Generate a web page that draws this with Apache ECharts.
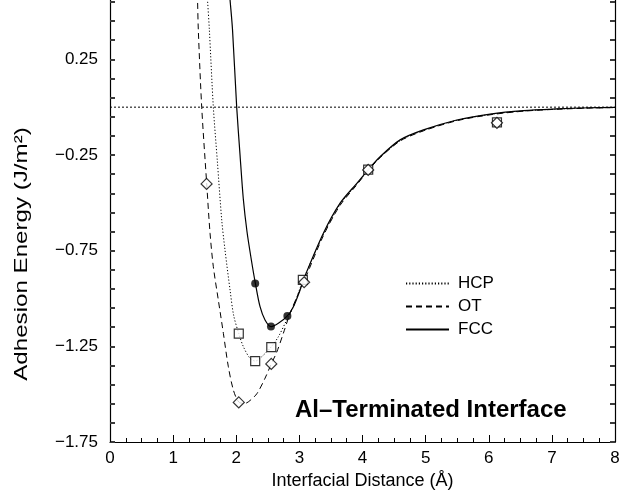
<!DOCTYPE html>
<html><head><meta charset="utf-8">
<script src="https://cdn.jsdelivr.net/npm/echarts@6/dist/echarts.min.js"></script>
<style>html,body{margin:0;padding:0;background:#fff}#c{width:629px;height:490px}</style>
</head><body><div id="c"></div>
<script>
// ---- tick values ----
const xTickValues = [0, 1, 2, 3, 4, 5, 6, 7, 8];
const yTickValues = [-1.75, -1.25, -0.75, -0.25, 0.25];
const yMinorTickValues = [-1.65, -1.55, -1.45, -1.35, -1.15, -1.05, -0.95, -0.85, -0.65, -0.55, -0.45, -0.35, -0.15, -0.05, 0.05, 0.15, 0.35, 0.45, 0.55];

// ---- fitted curves ----
const hcpCurveX = [1.519, 1.545, 1.574, 1.637, 1.70, 1.770, 1.822, 1.902, 1.96, 2.040, 2.113, 2.219, 2.303, 2.404, 2.556, 2.667, 2.800, 2.905, 3.054, 3.38, 3.645, 3.91, 4.093, 4.279, 4.596, 4.965, 5.494, 6.022, 6.55, 7.079, 7.607, 8.0];
const hcpCurveY = [0.70, 0.56, 0.404, 0.0, -0.28, -0.590, -0.747, -0.956, -1.09, -1.183, -1.252, -1.313, -1.327, -1.304, -1.252, -1.200, -1.112, -1.043, -0.909, -0.666, -0.508, -0.402, -0.328, -0.262, -0.175, -0.122, -0.069, -0.038, -0.020, -0.010, -0.004, -0.002];

const otCurveX = [1.376, 1.387, 1.399, 1.453, 1.532, 1.585, 1.637, 1.716, 1.796, 1.875, 1.954, 2.040, 2.14, 2.219, 2.330, 2.457, 2.556, 2.642, 2.746, 2.853, 2.964, 3.074, 3.38, 3.645, 3.91, 4.093, 4.279, 4.596, 4.965, 5.494, 6.022, 6.55, 7.079, 7.607, 8.0];
const otCurveY = [0.70, 0.56, 0.404, 0.0, -0.401, -0.659, -0.834, -1.008, -1.182, -1.357, -1.478, -1.541, -1.548, -1.533, -1.496, -1.416, -1.341, -1.280, -1.182, -1.077, -0.99, -0.91, -0.672, -0.513, -0.406, -0.330, -0.264, -0.177, -0.124, -0.071, -0.040, -0.021, -0.011, -0.005, -0.002];

const fccCurveX = [1.867, 1.902, 1.941, 2.007, 2.06, 2.112, 2.17, 2.24, 2.303, 2.377, 2.456, 2.552, 2.667, 2.810, 2.905, 3.011, 3.063, 3.38, 3.645, 3.91, 4.093, 4.279, 4.596, 4.965, 5.494, 6.022, 6.55, 7.079, 7.607, 8.0];
const fccCurveY = [0.70, 0.56, 0.404, 0.0, -0.25, -0.48, -0.65, -0.80, -0.921, -1.043, -1.112, -1.147, -1.130, -1.091, -1.043, -0.956, -0.903, -0.659, -0.502, -0.398, -0.326, -0.259, -0.171, -0.119, -0.067, -0.036, -0.018, -0.009, -0.003, -0.001];

// ---- computed points (markers) ----
const hcpPointsX = [2.04, 2.30, 2.555, 3.055, 4.09, 6.13];
const hcpPointsY = [-1.184, -1.327, -1.254, -0.903, -0.326, -0.080];
const otPointsX = [1.53, 2.04, 2.555, 3.075, 4.09, 6.13];
const otPointsY = [-0.401, -1.543, -1.342, -0.915, -0.328, -0.082];
const fccPointsX = [2.30, 2.55, 2.81];
const fccPointsY = [-0.921, -1.147, -1.091];

const zeroLineX = [0, 8];
const zeroLineY = [0, 0];

const zip = (a, b) => a.map((v, i) => [v, b[i]]);
const FONT = '"Liberation Sans", Arial, Helvetica, sans-serif';
const Y_MIN = -1.75, Y_MAX = 0.56;
const axisCol = '#000';
const tickCol = '#3a3a3a';
const yAllTicks = yTickValues.concat(yMinorTickValues).sort((a, b) => a - b);

const chart = echarts.init(document.getElementById('c'));
const fmtY = v => (v < 0 ? '\u2212' : '') + Math.abs(v).toFixed(2);

chart.setOption({
  animation: false,
  title: {
    text: 'Al\u2013Terminated Interface',
    left: 295, top: 398, padding: 0,
    textStyle: {fontFamily: FONT, fontSize: 24, fontWeight: 'bold', color: '#000'}
  },
  legend: {
    orient: 'vertical', left: 405, top: 275, padding: 0,
    itemWidth: 43, itemHeight: 14, itemGap: 6,
    data: ['HCP', 'OT', 'FCC'],
    itemStyle: {opacity: 0},
    textStyle: {fontFamily: FONT, fontSize: 17, color: '#000', lineHeight: 17, padding: [0, 0, 0, 4]}
  },
  graphic: [{
    type: 'text', x: 22, y: 254, rotation: Math.PI / 2, scaleX: 1.27,
    style: {text: 'Adhesion Energy (J/m\u00B2)', font: '19px ' + FONT, fill: '#000', align: 'center', verticalAlign: 'middle'}
  }],
  grid: {left: 110, right: 14, top: 0, bottom: 48, outerBoundsMode: 'none'},
  xAxis: [{
    type: 'value', min: 0, max: 8, interval: 1,
    axisLine: {show: true, onZero: false, lineStyle: {color: axisCol, width: 1.2}},
    axisTick: {show: true, inside: true, length: 7, lineStyle: {color: axisCol, width: 1}},
    minorTick: {show: true, splitNumber: 4, length: 4, lineStyle: {color: axisCol, width: 1}},
    splitLine: {show: false},
    axisLabel: {fontFamily: FONT, fontSize: 17, color: '#000', margin: 8},
    name: 'Interfacial Distance (\u00C5)', nameLocation: 'middle', nameGap: 28,
    nameTextStyle: {fontFamily: FONT, fontSize: 18, color: '#000'}
  }],
  yAxis: [{
    type: 'value', position: 'left', min: Y_MIN, max: Y_MAX,
    axisLine: {show: true, onZero: false, lineStyle: {color: axisCol, width: 1.2}},
    axisTick: {show: false},
    axisLabel: {show: true, customValues: yTickValues, fontFamily: FONT, fontSize: 17, color: '#000', margin: 12, formatter: fmtY},
    splitLine: {show: false}
  }, {
    type: 'value', position: 'right', min: Y_MIN, max: Y_MAX,
    axisLine: {show: true, onZero: false, lineStyle: {color: axisCol, width: 1.2}},
    axisTick: {show: true, inside: true, length: 5, customValues: yAllTicks, lineStyle: {color: tickCol, width: 2}},
    axisLabel: {show: false},
    splitLine: {show: false}
  }, {
    type: 'value', position: 'right', min: Y_MIN, max: Y_MAX,
    axisLine: {show: false},
    axisTick: {show: true, inside: false, length: 5, customValues: yAllTicks, lineStyle: {color: tickCol, width: 2}},
    axisLabel: {show: false},
    splitLine: {show: false}
  }],
  series: [
    {name: 'zero', type: 'line', yAxisIndex: 0, data: zip(zeroLineX, zeroLineY),
      symbol: 'none', silent: true, z: 1,
      lineStyle: {color: '#000', width: 1, type: [2, 2]}},
    {name: 'HCP', type: 'line', yAxisIndex: 0, data: zip(hcpCurveX, hcpCurveY),
      symbol: 'none', smooth: 0.3, z: 2, itemStyle: {color: '#000'},
      lineStyle: {color: '#000', width: 1, type: [1.2, 2]}},
    {name: 'OT', type: 'line', yAxisIndex: 0, data: zip(otCurveX, otCurveY),
      symbol: 'none', smooth: 0.3, z: 2, itemStyle: {color: '#000'},
      lineStyle: {color: '#000', width: 1, type: [6, 4]}},
    {name: 'FCC', type: 'line', yAxisIndex: 0, data: zip(fccCurveX, fccCurveY),
      symbol: 'none', smooth: 0.3, z: 2, itemStyle: {color: '#000'},
      lineStyle: {color: '#000', width: 1.2, type: 'solid'}},
    {name: 'HCP pts', type: 'scatter', yAxisIndex: 0, data: zip(hcpPointsX, hcpPointsY),
      symbol: 'rect', symbolSize: 9, z: 5,
      itemStyle: {color: '#fff', borderColor: '#000', borderWidth: 1.2}},
    {name: 'OT pts', type: 'scatter', yAxisIndex: 0, data: zip(otPointsX, otPointsY),
      symbol: 'diamond', symbolSize: 11, z: 6,
      itemStyle: {color: '#fff', borderColor: '#000', borderWidth: 1.2}},
    {name: 'FCC pts', type: 'scatter', yAxisIndex: 0, data: zip(fccPointsX, fccPointsY),
      symbol: 'circle', symbolSize: 8, z: 7,
      itemStyle: {color: '#000', borderColor: '#000', borderWidth: 0}}
  ]
});
</script>
</body></html>
